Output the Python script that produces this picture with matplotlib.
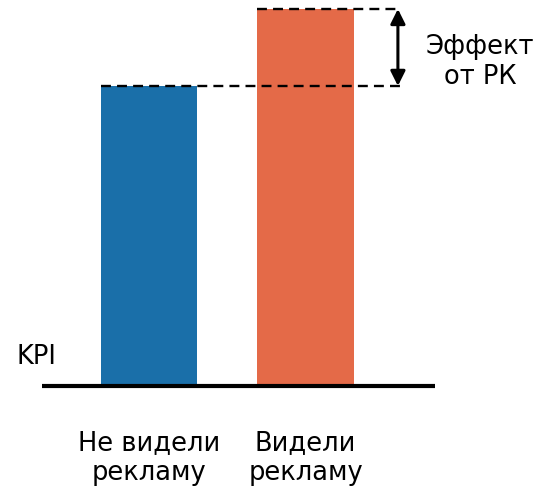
import matplotlib
matplotlib.use("Agg")
import matplotlib.pyplot as plt

categories = ["Не видели\nрекламу", "Видели\nрекламу"]
values = [79.6, 100.0]
colors = ["#1a6fa9", "#e46a48"]

fig = plt.figure(figsize=(5.36, 4.87), dpi=100)
ax = fig.add_axes([42/536, (487-386)/487, (435-42)/536, (386-9)/487])
ax.set_xlim(-0.684, 1.827)
ax.set_ylim(0, 100)
ax.axis("off")

x = [0, 1]
width = 0.615
ax.bar(x, values, width=width, color=colors, zorder=1)

xend = 1.604
for xi, v in zip(x, values):
    ax.plot([xi - width/2, xend], [v, v], color="black", lw=1.7,
            linestyle=(0, (4.2, 2.6)), zorder=3, clip_on=False)

ax.annotate("", xy=(1.59, values[1]), xytext=(1.59, values[0]),
            arrowprops=dict(arrowstyle="<|-|>", color="black", lw=2.2,
                            mutation_scale=22, shrinkA=0, shrinkB=0),
            annotation_clip=False)

ax.axhline(0, color="black", lw=3, zorder=4, clip_on=False,
           solid_capstyle="butt")

ax.text(2.115, 86.0, "Эффект\nот РК", ha="center",
        va="center", fontsize=18.5, linespacing=1.2)
ax.text(-0.722, 7.7, "KPI", ha="center", va="center", fontsize=18.5)

for xi, c in zip(x, categories):
    ax.text(xi, -19.2, c, ha="center", va="center", fontsize=18.5, linespacing=1.2)

fig.savefig("out.png", dpi=100)
